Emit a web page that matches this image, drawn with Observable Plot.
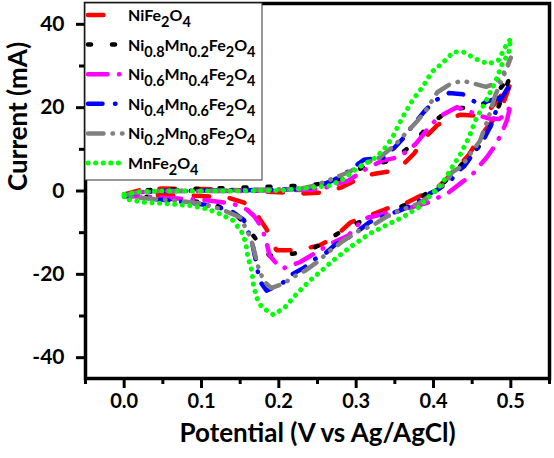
<!DOCTYPE html>
<html>
<head>
<meta charset="utf-8">
<script src="https://cdn.jsdelivr.net/npm/d3@7"></script>
<script src="https://cdn.jsdelivr.net/npm/@observablehq/plot@0.6"></script>
<style>
  html, body { margin: 0; padding: 0; background: #fff; }
  #chart { width: 554px; height: 458px; }
</style>
</head>
<body>
<div id="chart"></div>
<script>
// ---- data: [potential (V), current (mA)], forward then reverse sweep ----
const NiFe2O4 = [
  [0,-0.8],[0.02,0.2],[0.05,0.6],[0.1,0.5],[0.15,0.2],[0.2,-0.3],[0.23,-0.6],[0.255,-0.4],[0.28,0.8],
  [0.3,2.6],[0.32,4],[0.34,4.6],[0.36,6.2],[0.375,9],[0.39,13],[0.405,15.8],[0.42,17.5],[0.435,18.3],
  [0.455,18.1],[0.47,19],[0.484,22],[0.495,25],[0.5,26],
  [0.49,21],[0.475,16.5],[0.46,13],[0.445,8.5],[0.43,5.5],[0.415,2.5],[0.4,0],[0.385,-1],[0.36,-3.3],
  [0.34,-4.2],[0.313,-6.2],[0.293,-7.5],[0.27,-11.4],[0.253,-13],[0.235,-13.8],[0.22,-14.2],[0.197,-14.2],
  [0.19,-12],[0.184,-9.1],[0.171,-5.5],[0.155,-2.8],[0.135,-1.6],[0.1,-1.2],[0.05,-1],[0,-0.8]
];
const Ni08Mn02Fe2O4 = [
  [0,-1],[0.02,0],[0.04,0.3],[0.07,0.4],[0.107,0.5],[0.139,0.8],[0.171,0.9],[0.201,1.1],[0.231,1.3],
  [0.26,1.8],[0.28,3],[0.3,5],[0.321,6.5],[0.338,7],[0.351,8.1],[0.365,10],[0.373,11.3],[0.394,15.7],
  [0.41,18],[0.42,19.3],[0.435,19.9],[0.452,20.1],[0.465,21],[0.48,23],[0.49,25.5],[0.5,28],
  [0.49,23],[0.475,16],[0.46,11],[0.445,7.8],[0.437,6.5],[0.424,3.7],[0.41,1.5],[0.394,-0.3],[0.38,-1.8],
  [0.366,-3.1],[0.35,-4.5],[0.332,-5.5],[0.306,-7.3],[0.281,-9.7],[0.265,-11.5],[0.253,-13],[0.235,-14.3],
  [0.22,-15],[0.2,-15.5],[0.188,-15.5],[0.178,-13.5],[0.167,-10.7],[0.155,-7.5],[0.14,-5],[0.113,-3.1],
  [0.08,-2.2],[0.04,-1.5],[0,-1]
];
const Ni06Mn04Fe2O4 = [
  [0,-1.2],[0.02,-0.3],[0.05,0],[0.1,0],[0.15,0],[0.2,0.2],[0.24,0.3],[0.26,0.8],[0.275,1.7],[0.29,2.5],
  [0.31,5],[0.334,7.3],[0.352,8],[0.364,9.3],[0.377,11.3],[0.398,16.1],[0.409,18],[0.43,20.1],[0.445,19.2],
  [0.459,18.1],[0.472,17.4],[0.485,17.3],[0.495,18.5],[0.5,21],
  [0.495,17],[0.488,13.8],[0.48,11],[0.469,8.1],[0.458,5.8],[0.45,3.9],[0.434,1.7],[0.42,-0.3],[0.394,-2.7],
  [0.37,-4],[0.356,-4.8],[0.34,-5.3],[0.313,-6.5],[0.3,-8.5],[0.29,-10.7],[0.27,-12.4],[0.255,-14],
  [0.238,-15.9],[0.227,-17.1],[0.205,-18.6],[0.195,-17],[0.188,-15.5],[0.184,-12.3],[0.178,-8.7],
  [0.168,-6],[0.159,-4.5],[0.14,-3],[0.1,-2.1],[0.05,-1.6],[0,-1.2]
];
const Ni04Mn06Fe2O4 = [
  [0,-1.2],[0.02,-0.3],[0.05,0],[0.1,0.1],[0.15,0.2],[0.2,0.3],[0.23,0.5],[0.25,1.2],[0.27,2.5],
  [0.288,4.5],[0.31,7.5],[0.335,8],[0.35,10.5],[0.36,12.5],[0.373,15.7],[0.39,19.5],[0.405,22],
  [0.42,23.5],[0.438,23.2],[0.457,21],[0.473,21.7],[0.487,22.5],[0.495,24],[0.5,26],
  [0.492,23.5],[0.484,21],[0.475,16],[0.463,11.7],[0.448,8.1],[0.44,6],[0.433,4.9],[0.423,2.7],
  [0.407,0.5],[0.394,-0.7],[0.377,-3],[0.356,-4.7],[0.336,-6],[0.317,-7.5],[0.295,-10.7],[0.274,-12.7],
  [0.26,-15],[0.245,-16.5],[0.232,-18.5],[0.218,-19.9],[0.206,-21.9],[0.195,-23],[0.184,-23.9],
  [0.175,-21.5],[0.17,-16.5],[0.165,-12],[0.155,-7],[0.14,-5],[0.12,-3.8],[0.094,-3],[0.06,-2.3],
  [0.03,-1.8],[0,-1.2]
];
const Ni02Mn08Fe2O4 = [
  [0,-1],[0.02,-0.3],[0.05,0],[0.1,0],[0.15,0.2],[0.2,0.4],[0.23,0.6],[0.25,1.5],[0.27,3],[0.29,4.5],
  [0.31,6.5],[0.33,8],[0.35,11],[0.365,14],[0.38,17],[0.39,19.3],[0.405,23.7],[0.42,25.5],[0.437,26.5],
  [0.454,25.7],[0.468,25],[0.48,25.8],[0.49,28],[0.5,32],
  [0.495,29.5],[0.489,27],[0.48,23],[0.47,17],[0.46,12],[0.446,8.5],[0.437,6],[0.424,4.5],[0.416,2],
  [0.4,-0.5],[0.381,-3],[0.356,-4.7],[0.338,-6.3],[0.321,-8.3],[0.304,-9.5],[0.283,-12],[0.265,-14.5],
  [0.25,-17],[0.235,-19],[0.22,-20.5],[0.205,-22.3],[0.19,-23.3],[0.18,-21.5],[0.173,-18],[0.167,-13.5],
  [0.163,-11],[0.15,-6.3],[0.124,-4.3],[0.1,-3],[0.06,-2.2],[0.03,-1.8],[0,-1.1]
];
const MnFe2O4 = [
  [0,-0.8],[0.02,-0.2],[0.05,0],[0.1,0],[0.15,0],[0.2,0.1],[0.231,0.6],[0.266,1.3],[0.285,3],[0.3,5.3],
  [0.326,8.1],[0.338,10.5],[0.347,12.9],[0.36,17.7],[0.373,21.8],[0.386,25],[0.398,28.6],[0.411,30.6],
  [0.426,33.4],[0.439,33.3],[0.456,31.6],[0.471,30.5],[0.484,31.4],[0.493,34.6],[0.5,36.6],
  [0.497,33],[0.489,30.6],[0.48,26.2],[0.467,21.3],[0.454,16.9],[0.446,12.9],[0.435,8.9],[0.424,5.7],
  [0.411,1.7],[0.398,-0.7],[0.381,-3.9],[0.36,-6.3],[0.338,-8.3],[0.317,-10.3],[0.295,-13.1],[0.27,-16.7],
  [0.253,-19.5],[0.24,-21.5],[0.223,-24.7],[0.208,-27.9],[0.193,-29.7],[0.178,-27.9],[0.171,-25.5],
  [0.167,-22.3],[0.165,-19.1],[0.16,-15.9],[0.157,-12.3],[0.152,-9.9],[0.141,-7.1],[0.124,-5.5],
  [0.107,-4.3],[0.085,-3.5],[0.06,-3.1],[0.025,-2.7],[0,-1.9],[0,-0.8]
];

const seriesNames = ["NiFe2O4", "Ni0.8Mn0.2Fe2O4", "Ni0.6Mn0.4Fe2O4", "Ni0.4Mn0.6Fe2O4", "Ni0.2Mn0.8Fe2O4", "MnFe2O4"];
const seriesData = [NiFe2O4, Ni08Mn02Fe2O4, Ni06Mn04Fe2O4, Ni04Mn06Fe2O4, Ni02Mn08Fe2O4, MnFe2O4];
const seriesColors = ["#ff0000", "#000000", "#ff00ff", "#0000ff", "#808080", "#00ff00"];
const seriesDash = ["15.5,20.5", "3,21", "19.5,11.5,0.5,11.5", "14.5,12.5,0.5,12.5", "15.5,9,0.5,9,0.5,9", "0.1,7.5"];

const xMajorTicks = [0, 0.1, 0.2, 0.3, 0.4, 0.5];
const xMinorTicks = [-0.05, 0.05, 0.15, 0.25, 0.35, 0.45, 0.55];
const yMajorTicks = [-40, -20, 0, 20, 40];
const yMinorTicks = [-30, -10, 10, 30];
const xTitle = "Potential (V vs Ag/AgCl)";
const yTitle = "Current (mA)";

const FONT = "Lato, 'Open Sans', sans-serif";

const lineMarks = seriesData.map((d, i) => Plot.line(d, {
  x: p => p[0], y: p => p[1],
  stroke: seriesColors[i], strokeWidth: i === 5 ? 5 : 4.5,
  strokeDasharray: seriesDash[i], strokeLinecap: "round", strokeLinejoin: "round"
}));

const chart = Plot.plot({
  width: 554, height: 458,
  marginLeft: 85, marginRight: 5, marginTop: 3, marginBottom: 80,
  style: { fontFamily: FONT, fontWeight: "bold", background: "white", color: "black" },
  x: { domain: [-0.05, 0.55] },
  y: { domain: [-45, 45] },
  marks: [
    ...lineMarks,
    Plot.axisX({ ticks: xMajorTicks, tickFormat: d => d.toFixed(1), tickSize: 10, tickPadding: 5,
      strokeWidth: 3, fontSize: 20, fontWeight: "bold", label: null }),
    Plot.axisX({ ticks: xMinorTicks, tickSize: 6, strokeWidth: 3, text: null, label: null }),
    Plot.axisY({ ticks: yMajorTicks, tickFormat: d => String(d), tickSize: 9, tickPadding: 12,
      strokeWidth: 3, fontSize: 21, fontWeight: "bold", label: null }),
    Plot.axisY({ ticks: yMinorTicks, tickSize: 6, strokeWidth: 3, text: null, label: null }),
    Plot.frame({ stroke: "black", strokeWidth: 3.5 }),
    Plot.text([xTitle], { frameAnchor: "bottom", dy: 63, fontSize: 26, fontWeight: "bold" }),
    Plot.text([yTitle], { frameAnchor: "left", dx: -67, rotate: -90, fontSize: 26, fontWeight: "bold" })
  ]
});

document.getElementById("chart").appendChild(chart);

// ---- legend inside the plot (top-left) ----
const svg = d3.select(chart.tagName.toLowerCase() === "svg" ? chart : chart.querySelector("svg"));
const lg = svg.append("g").attr("font-family", FONT).attr("font-weight", "bold").attr("text-anchor", "start");
lg.append("rect").attr("x", 85).attr("y", 3).attr("width", 177).attr("height", 177)
  .attr("fill", "white").attr("stroke", "#333").attr("stroke-width", 1);
seriesNames.forEach((name, i) => {
  const cy = 15 + i * 29.6;
  lg.append("line").attr("x1", 88).attr("x2", 123).attr("y1", cy).attr("y2", cy)
    .attr("stroke", seriesColors[i]).attr("stroke-width", i === 5 ? 5 : 4.5)
    .attr("stroke-dasharray", seriesDash[i]).attr("stroke-linecap", "round");
  const t = lg.append("text").attr("x", 128).attr("y", cy + 6).attr("font-size", 16)
    .attr("fill", "black").attr("text-anchor", "start");
  const parts = name.match(/[A-Za-z]+|[0-9.]+/g);
  let sub = false;
  parts.forEach(p => {
    const isNum = /^[0-9.]/.test(p);
    const ts = t.append("tspan").text(p);
    if (isNum && !sub) { ts.attr("dy", 6).attr("font-size", 14.5); sub = true; }
    else if (isNum) { ts.attr("font-size", 14.5); }
    else if (sub) { ts.attr("dy", -6); sub = false; }
  });
});
</script>
</body>
</html>
